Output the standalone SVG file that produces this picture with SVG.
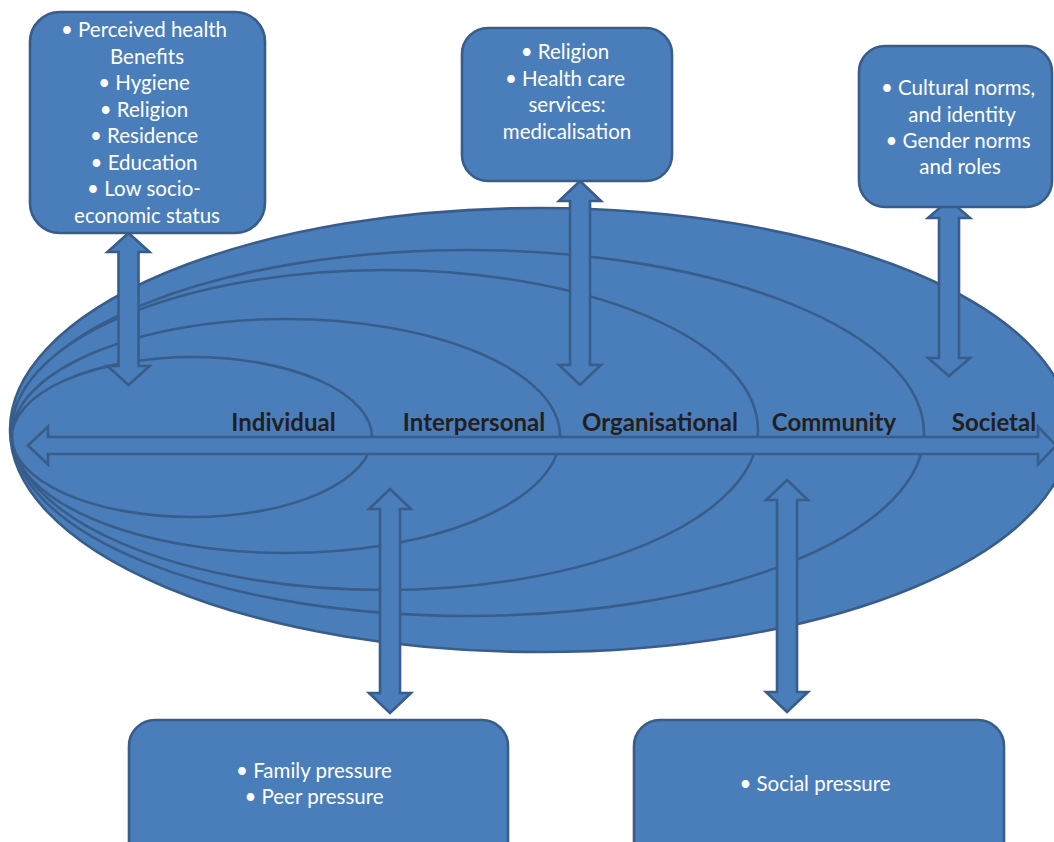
<svg xmlns="http://www.w3.org/2000/svg" width="1054" height="842" viewBox="0 0 1054 842">
<style>
.shape{fill:#4A7EBB;stroke:#385D8A;stroke-width:2.6;stroke-linejoin:miter}
.box{fill:#4A7EBB;stroke:#385D8A;stroke-width:2.6}
.t{font-family:Lato,"Open Sans","Liberation Sans",sans-serif;font-size:20.5px;fill:#FFFFFF;text-anchor:middle}
.lbl{font-family:Lato,"Open Sans","Liberation Sans",sans-serif;font-size:24px;font-weight:bold;fill:#231F20;text-anchor:middle}
</style>
<rect width="1054" height="842" fill="#FFFFFF"/>
<g id="levels">
<ellipse id="societal" class="shape" cx="540" cy="430" rx="530" ry="222"/>
<ellipse id="community" class="shape" cx="468" cy="433" rx="456" ry="183"/>
<ellipse id="organisational" class="shape" cx="385" cy="430" rx="373" ry="160"/>
<ellipse id="interpersonal" class="shape" cx="286" cy="436" rx="274" ry="117"/>
<ellipse id="individual" class="shape" cx="192" cy="437" rx="180" ry="80"/>
</g>
<g id="connectors">
<polygon class="shape" points="28,445.5 48,426.5 48,437 1038,437 1038,426.5 1056,445.5 1038,464.5 1038,454 48,454 48,464.5"/>
<polygon class="shape" points="128.5,233 149.5,252 138.5,252 138.5,366 149.5,366 128.5,385 107.5,366 118.5,366 118.5,252 107.5,252"/>
<polygon class="shape" points="580,181 601,201 590,201 590,365 601,365 580,385 559,365 570,365 570,201 559,201"/>
<polygon class="shape" points="949,200 970,218 959,218 959,358 970,358 949,376 928,358 939,358 939,218 928,218"/>
<polygon class="shape" points="390,489 411,509 400,509 400,693 411,693 390,713 369,693 380,693 380,509 369,509"/>
<polygon class="shape" points="787,480 808,500 797,500 797,692 808,692 787,712 766,692 777,692 777,500 766,500"/>
</g>
<g id="level-labels">
<text class="lbl" x="283.5" y="431">Individual</text>
<text class="lbl" x="474" y="431">Interpersonal</text>
<text class="lbl" x="660" y="431">Organisational</text>
<text class="lbl" x="834" y="431">Community</text>
<text class="lbl" x="994" y="431">Societal</text>
</g>
<g id="box-individual">
<rect class="box" x="30" y="12" width="235" height="221" rx="30"/>
<text class="t" x="144" y="37">• Perceived health</text>
<text class="t" x="147" y="63.5">Benefits</text>
<text class="t" x="144" y="90">• Hygiene</text>
<text class="t" x="144" y="116.5">• Religion</text>
<text class="t" x="144" y="143">• Residence</text>
<text class="t" x="144" y="169.5">• Education</text>
<text class="t" x="144" y="196">• Low socio-</text>
<text class="t" x="147" y="222.5">economic status</text>
</g>
<g id="box-organisational">
<rect class="box" x="462" y="28" width="210" height="153" rx="26"/>
<text class="t" x="565" y="59">• Religion</text>
<text class="t" x="565" y="86">• Health care</text>
<text class="t" x="567" y="112">services:</text>
<text class="t" x="567" y="138.5">medicalisation</text>
</g>
<g id="box-societal">
<rect class="box" x="859" y="46" width="193" height="161" rx="26"/>
<text class="t" x="958" y="95">• Cultural norms,</text>
<text class="t" x="962" y="121.5">and identity</text>
<text class="t" x="958" y="148">• Gender norms</text>
<text class="t" x="960" y="174">and roles</text>
</g>
<g id="box-interpersonal">
<rect class="box" x="129" y="720" width="379" height="150" rx="26"/>
<text class="t" x="314" y="778">• Family pressure</text>
<text class="t" x="314" y="804">• Peer pressure</text>
</g>
<g id="box-community">
<rect class="box" x="634" y="720" width="370" height="150" rx="26"/>
<text class="t" x="815" y="791">• Social pressure</text>
</g>
</svg>
